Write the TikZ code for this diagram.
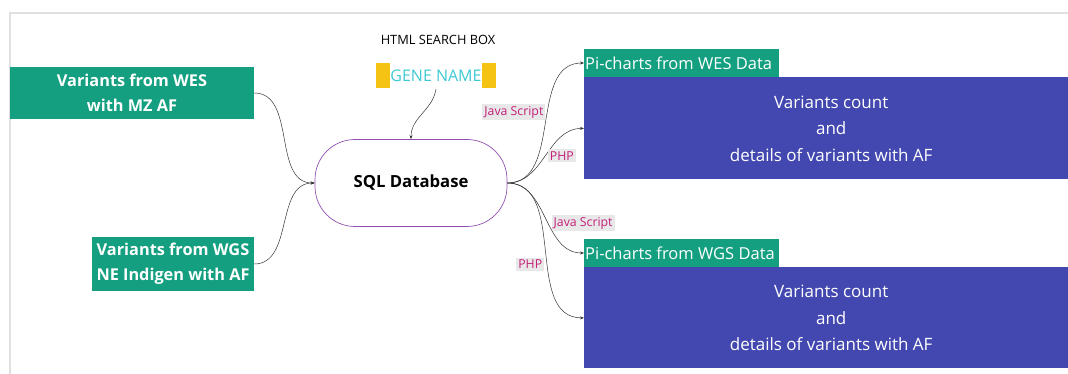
\documentclass[tikz,border=0pt]{standalone}
\usepackage{fontspec}
\setmainfont{Open Sans}
\usetikzlibrary{arrows.meta,positioning}
\definecolor{srcgreen}{RGB}{20,160,128}
\definecolor{resblue}{RGB}{66,72,175}
\definecolor{dbpurple}{RGB}{145,80,175}
\definecolor{genecyan}{RGB}{60,200,210}
\definecolor{geneyellow}{RGB}{245,195,20}
\definecolor{lblmagenta}{RGB}{195,30,120}

\newcommand{\headtext}[1]{\makebox[193pt][l]{#1}}

\tikzset{
    srcbox/.style={fill=srcgreen, text=white, align=center, inner sep=0pt,
        font=\fontsize{16.3}{25}\selectfont\bfseries},
    headbox/.style={fill=srcgreen, text=white, anchor=west, inner xsep=1pt,
        inner ysep=0pt, minimum height=28pt,
        font=\fontsize{16.5}{20}\selectfont},
    resbox/.style={fill=resblue, text=white, align=center, inner sep=0pt,
        minimum width=494pt, font=\fontsize{17}{26.5}\selectfont},
    conn/.style={draw=black!80, line width=0.5pt, -{Stealth[length=4pt,width=3pt]}},
    lbl/.style={fill=black!9, text=lblmagenta, inner sep=2pt,
        font=\fontsize{12.3}{14}\selectfont}
}

\begin{document}
\begin{tikzpicture}[x=1pt, y=-1pt]
    \useasboundingbox (0,0) rectangle (1068,374);
    \draw[black!12, line width=1.5pt] (10,374) -- (10,13) -- (1068,13);

    % sources
    \node[srcbox, minimum width=244pt, minimum height=52pt] (wes) at (132,93)
        {Variants from WES\\with MZ AF};
    \node[srcbox, minimum width=162pt, minimum height=54pt] (wgs) at (173,264)
        {Variants from WGS\\NE Indigen with AF};

    % search box
    \node[font=\fontsize{12.8}{15}\selectfont] (html) at (438,40) {HTML SEARCH BOX};
    \node[text=genecyan, inner sep=0pt, minimum height=25pt,
        font=\fontsize{16}{19}\selectfont] (gene) at (436,75.5) {GENE NAME};
    \fill[geneyellow] ([xshift=-14pt]gene.north west) rectangle (gene.south west);
    \fill[geneyellow] (gene.north east) rectangle ([xshift=14pt]gene.south east);

    % database
    \node[
        draw=dbpurple,
        line width=0.7pt,
        rounded corners=40pt,
        minimum width=192pt,
        minimum height=87pt,
        font=\fontsize{16.7}{20}\selectfont\bfseries
    ] (sql) at (411,183) {SQL Database};

    % results
    \node[headbox] (wesdata) at (584,63) {\headtext{Pi-charts from WES Data}};
    \node[resbox, minimum height=102pt, below=0pt of wesdata.south west, anchor=north west] (wesres)
        {Variants count\\and\\details of variants with AF};
    \node[headbox] (wgsdata) at (584,253) {\headtext{Pi-charts from WGS Data}};
    \node[resbox, minimum height=101pt, below=0pt of wgsdata.south west, anchor=north west] (wgsres)
        {Variants count\\and\\details of variants with AF};

    % connectors
    \draw[conn] (wes.east) to[out=0, in=180] (sql.west);
    \draw[conn] (wgs.east) to[out=0, in=180] (sql.west);
    \draw[conn] ([yshift=-1pt]gene.south) to[out=-100, in=90] (sql.north);
    \draw[conn] (sql.east) to[out=0, in=180]
        node[lbl, pos=0.56, anchor=east, xshift=-2pt] (js1) {Java Script} (wesdata.west);
    \draw[conn] (sql.east) to[out=0, in=180]
        node[lbl, pos=0.5, anchor=west, xshift=2pt] (php1) {PHP} (wesres.west);
    \draw[conn] (sql.east) to[out=0, in=180]
        node[lbl, pos=0.55, anchor=west, xshift=3pt] (js2) {Java Script} (wgsdata.west);
    \draw[conn] (sql.east) to[out=0, in=180]
        node[lbl, pos=0.57, anchor=east, xshift=-3pt] (php2) {PHP} (wgsres.west);
\end{tikzpicture}
\end{document}
